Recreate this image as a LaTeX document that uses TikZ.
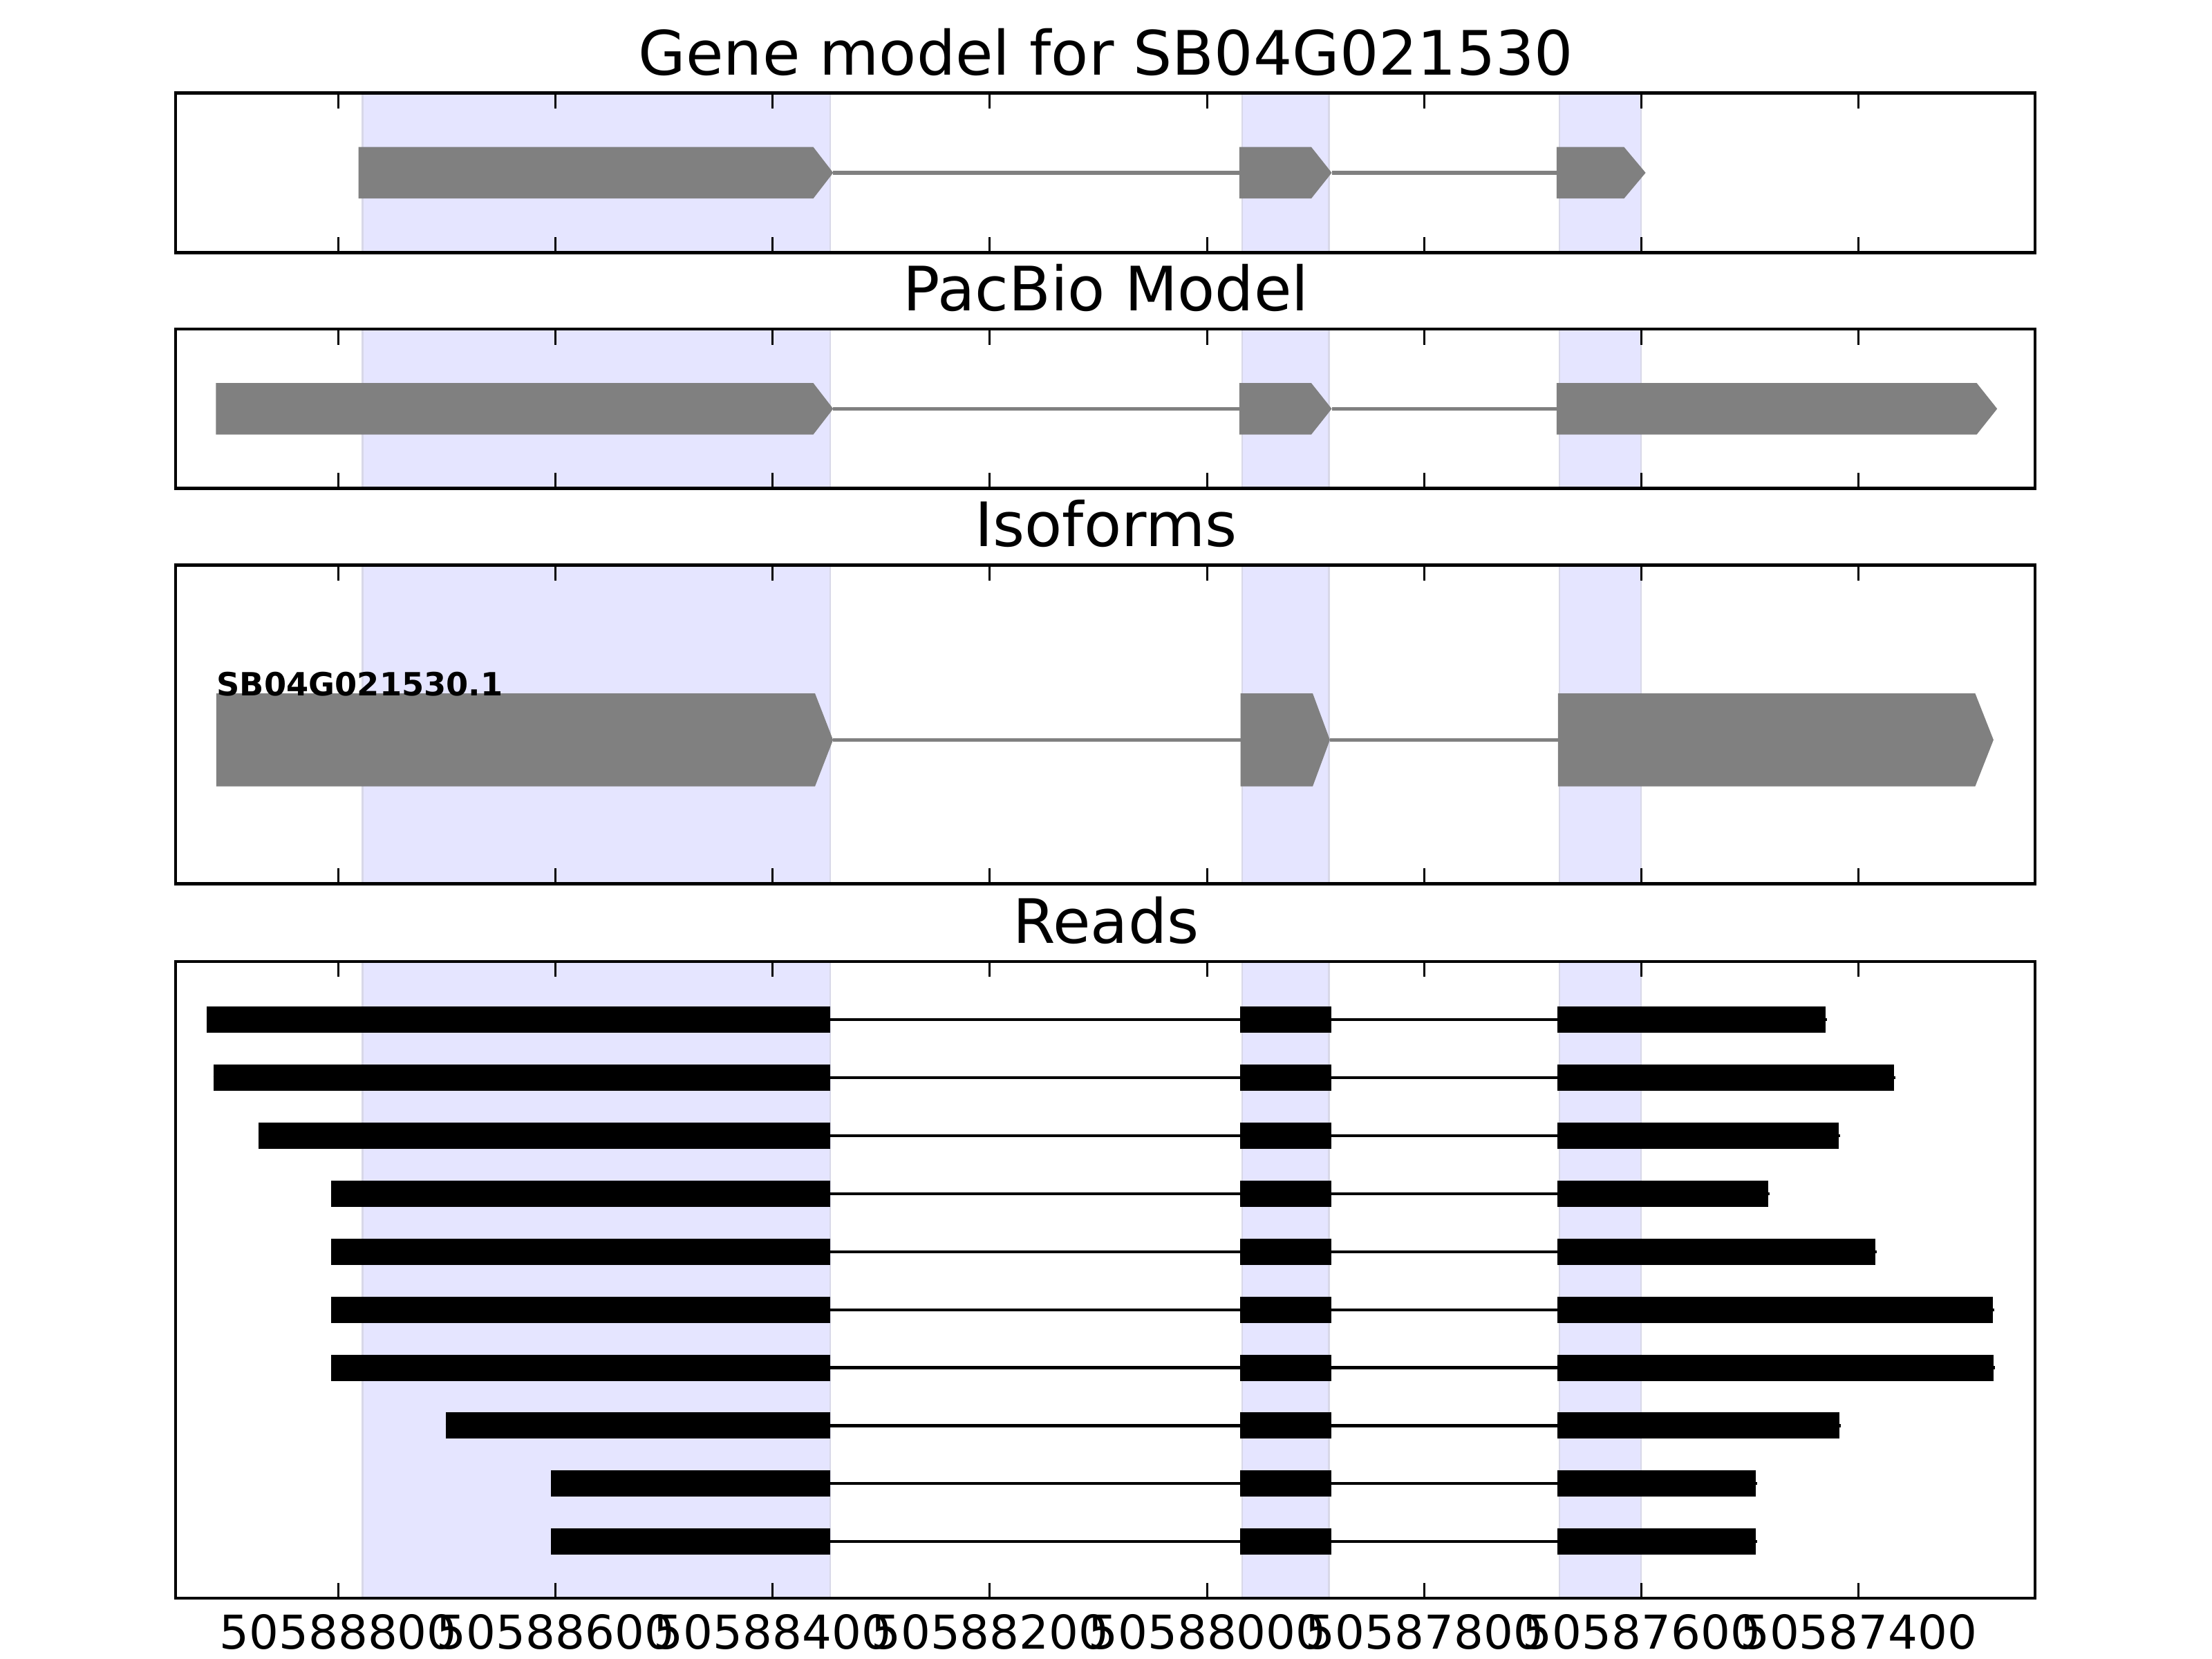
\documentclass[tikz,border=0pt]{standalone}
\usepackage{fontspec}
\setmainfont{DejaVu Sans}
\usepackage{tikz}

\definecolor{spanblue}{RGB}{229,229,255}
\definecolor{spanedge}{RGB}{216,216,232}
\definecolor{exongray}{RGB}{128,128,128}

% exon arrow: left, shoulder, tip, centre, half height
\newcommand{\exonarrow}[5]{%
  \fill[exon] (#1,#4-#5) -- (#2,#4-#5) -- (#3,#4) -- (#2,#4+#5) -- (#1,#4+#5) -- cycle;}

\begin{document}
\begin{tikzpicture}[
  frame/.style={line width=0.63pt},
  tickmark/.style={line width=0.43pt},
  span/.style={fill=spanblue, draw=spanedge, line width=0.35pt},
  exon/.style={fill=exongray},
  intron/.style={exongray, line width=0.75pt},
  readline/.style={line width=0.6pt},
  paneltitle/.style={font=\fontsize{12.35}{14}\selectfont, anchor=base},
  ticklabel/.style={font=\fontsize{9.4}{11}\selectfont, anchor=base},
]
  \useasboundingbox (0,0) rectangle (15.68,11.76);
  % Shaded exon spans in every panel
  \foreach \ptop/\pbot in {11.10/9.97, 9.427/8.297, 7.754/5.494, 4.945/0.43} {
    \foreach \xa/\xb in {2.57/5.884, 8.805/9.42, 11.055/11.632}
      \filldraw[span] (\xa,\pbot) rectangle (\xb,\ptop);
  }
  % Gene model
  \draw[intron] (5.906,10.535) -- (8.785,10.535);
  \draw[intron] (9.44,10.535) -- (11.034,10.535);
  \exonarrow{2.541}{5.765}{5.906}{10.535}{0.1825}
  \exonarrow{8.785}{9.295}{9.44}{10.535}{0.1825}
  \exonarrow{11.034}{11.512}{11.665}{10.535}{0.1825}
  % PacBio model
  \draw[intron] (5.906,8.862) -- (8.785,8.862);
  \draw[intron] (9.44,8.862) -- (11.034,8.862);
  \exonarrow{1.53}{5.765}{5.906}{8.862}{0.1825}
  \exonarrow{8.785}{9.295}{9.44}{8.862}{0.1825}
  \exonarrow{11.034}{14.012}{14.157}{8.862}{0.1825}
  % Isoforms
  \draw[intron] (5.905,6.515) -- (8.793,6.515);
  \draw[intron] (9.427,6.515) -- (11.044,6.515);
  \exonarrow{1.533}{5.777}{5.905}{6.515}{0.33}
  \exonarrow{8.793}{9.305}{9.427}{6.515}{0.33}
  \exonarrow{11.044}{14.001}{14.131}{6.515}{0.33}
  \node[font=\fontsize{6.45}{8}\selectfont\bfseries, anchor=base west, inner sep=0pt]
    (isoname) at (1.53,6.83) {SB04G021530.1};
  % Reads: start / end of each read
  \foreach \L/\R [count=\k from 0] in {1.466/12.941, 1.512/13.426, 1.835/13.036,
      2.349/12.536, 2.349/13.293, 2.349/14.126, 2.349/14.131, 3.159/13.038,
      3.907/12.444, 3.907/12.444} {
    \pgfmathsetmacro\ry{4.531-0.411*\k}
    \draw[readline] (\L,\ry) -- (\R+0.01,\ry);
    \fill (\L,\ry-0.093) rectangle (5.885,\ry+0.093);
    \fill (8.79,\ry-0.093) rectangle (9.435,\ry+0.093);
    \fill (11.04,\ry-0.093) rectangle (\R,\ry+0.093);
  }
  % Frames and inward ticks
  \foreach \ptop/\pbot in {11.10/9.97, 9.427/8.297, 7.754/5.494, 4.945/0.43} {
    \foreach \tx in {2.397,3.937,5.476,7.016,8.556,10.096,11.635,13.175} {
      \draw[tickmark] (\tx,\pbot) -- ++(0,0.11);
      \draw[tickmark] (\tx,\ptop) -- ++(0,-0.11);
    }
    \draw[frame] (1.245,\pbot) rectangle (14.425,\ptop);
  }
  % Titles
  \node[paneltitle] (genetitle) at (7.84,11.23) {Gene model for SB04G021530};
  \node[paneltitle] (pacbiotitle) at (7.84,9.557) {PacBio Model};
  \node[paneltitle] (isotitle) at (7.84,7.884) {Isoforms};
  \node[paneltitle] (readstitle) at (7.84,5.075) {Reads};
  % Tick labels
  \foreach \tx/\lab in {2.397/50588800, 3.937/50588600, 5.476/50588400,
      7.016/50588200, 8.556/50588000, 10.096/50587800, 11.635/50587600,
      13.175/50587400}
    \node[ticklabel] (tick\lab) at (\tx,0.07) {\lab};
\end{tikzpicture}
\end{document}
